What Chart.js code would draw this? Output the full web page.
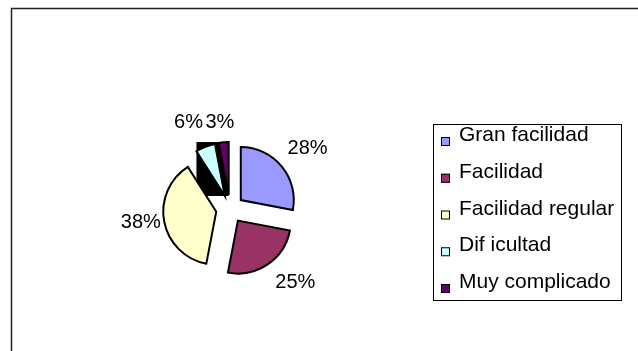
<!DOCTYPE html>
<html>
<head>
<meta charset="utf-8">
<script src="https://cdn.jsdelivr.net/npm/chart.js@4/dist/chart.umd.min.js"></script>
<style>
  html, body { margin: 0; padding: 0; background: #ffffff; }
  #wrap { width: 638px; height: 351px; position: relative; }
</style>
</head>
<body>
<div id="wrap"><canvas id="chart" width="638" height="351"></canvas></div>
<script>
// Survey answers: how easy the task was
const categories = ['Gran facilidad', 'Facilidad', 'Facilidad regular', 'Dif icultad', 'Muy complicado'];
const shares = [28, 25, 38, 6, 3];
const sliceColors = ['#9999FF', '#993366', '#FFFFCC', '#CCFFFF', '#660066'];

const FONT = '"Liberation Sans", Arial, sans-serif';
const EXPLODE = 14;           // distance each slice is pulled out from the centre
const SHADED = [3, 4];        // thin slices drawn over a dark backing box

// Move every slice outward along its bisector
const explodePlugin = {
  id: 'explode',
  afterUpdate(chart) {
    const a = chart.chartArea;
    const cx = (a.left + a.right) / 2, cy = (a.top + a.bottom) / 2;
    chart.getDatasetMeta(0).data.forEach(arc => {
      const mid = (arc.startAngle + arc.endAngle) / 2;
      arc.x = cx + Math.cos(mid) * EXPLODE;
      arc.y = cy + Math.sin(mid) * EXPLODE;
    });
  }
};

// White page with the outer frame line
const framePlugin = {
  id: 'frame',
  beforeDraw(chart) {
    const ctx = chart.ctx;
    ctx.save();
    ctx.fillStyle = '#ffffff';
    ctx.fillRect(0, 0, chart.width, chart.height);
    ctx.strokeStyle = '#222222';
    ctx.lineWidth = 1.5;
    ctx.beginPath();
    ctx.moveTo(11.5, chart.height);
    ctx.lineTo(11.5, 8.5);
    ctx.lineTo(chart.width, 8.5);
    ctx.stroke();
    ctx.restore();
  }
};

// Dark box behind the thinnest slices
const backingPlugin = {
  id: 'backing',
  beforeDatasetsDraw(chart) {
    const arcs = chart.getDatasetMeta(0).data;
    let x0 = Infinity, y0 = Infinity, x1 = -Infinity, y1 = -Infinity;
    SHADED.forEach(i => {
      const arc = arcs[i];
      const pts = [[arc.x, arc.y]];
      for (let k = 0; k <= 20; k++) {
        const t = arc.startAngle + (arc.endAngle - arc.startAngle) * k / 20;
        pts.push([arc.x + Math.cos(t) * arc.outerRadius, arc.y + Math.sin(t) * arc.outerRadius]);
      }
      pts.forEach(([px, py]) => {
        x0 = Math.min(x0, px); y0 = Math.min(y0, py);
        x1 = Math.max(x1, px); y1 = Math.max(y1, py);
      });
    });
    const ctx = chart.ctx;
    ctx.save();
    ctx.fillStyle = '#000000';
    ctx.fillRect(x0, y0, x1 - x0, y1 - y0);
    ctx.restore();
  }
};

// Percentage labels outside each slice
const pctLabelPlugin = {
  id: 'pctLabels',
  afterDatasetsDraw(chart, args, opts) {
    const ctx = chart.ctx;
    const arcs = chart.getDatasetMeta(0).data;
    const values = chart.data.datasets[0].data;
    const total = values.reduce((s, v) => s + v, 0);
    ctx.save();
    ctx.font = opts.size + 'px ' + FONT;
    ctx.fillStyle = '#000000';
    ctx.textAlign = 'center';
    ctx.textBaseline = 'middle';
    arcs.forEach((arc, i) => {
      const text = Math.round(values[i] / total * 100) + '%';
      const mid = (arc.startAngle + arc.endAngle) / 2;
      const dx = Math.cos(mid), dy = Math.sin(mid);
      const w = ctx.measureText(text).width;
      const r = arc.outerRadius + opts.gap;
      const n = opts.nudge[i] || [0, 0];
      const x = arc.x + dx * r + dx * w / 2 + n[0];
      const y = arc.y + dy * r + dy * opts.halfHeight + n[1];
      ctx.fillText(text, x, y);
    });
    ctx.restore();
  }
};

// Boxed legend on the right
const boxLegendPlugin = {
  id: 'boxLegend',
  afterDraw(chart, args, opts) {
    const ctx = chart.ctx;
    const ds = chart.data.datasets[0];
    ctx.save();
    ctx.strokeStyle = '#000000';
    ctx.lineWidth = 1;
    ctx.strokeRect(opts.left + 0.5, opts.top + 0.5, opts.width, opts.height);
    ctx.font = opts.size + 'px ' + FONT;
    ctx.textAlign = 'left';
    ctx.textBaseline = 'alphabetic';
    chart.data.labels.forEach((label, i) => {
      const base = opts.firstBaseline + i * opts.step;
      ctx.fillStyle = ds.backgroundColor[i];
      ctx.fillRect(opts.keyX, base - 4, 9, 9);
      ctx.strokeStyle = '#000000';
      ctx.lineWidth = 1;
      ctx.strokeRect(opts.keyX + 0.5, base - 3.5, 8, 8);
      ctx.fillStyle = '#000000';
      ctx.fillText(label, opts.textX, base);
    });
    ctx.restore();
  }
};

new Chart(document.getElementById('chart'), {
  type: 'pie',
  data: {
    labels: categories,
    datasets: [{
      data: shares,
      backgroundColor: sliceColors,
      borderColor: '#000000',
      borderWidth: 2,
      borderJoinStyle: 'miter'
    }]
  },
  plugins: [framePlugin, explodePlugin, backingPlugin, pctLabelPlugin, boxLegendPlugin],
  options: {
    responsive: false,
    animation: false,
    events: [],
    layout: { padding: { left: 176, right: 354, top: 155, bottom: 88 } },
    plugins: {
      legend: { display: false },
      tooltip: { enabled: false },
      pctLabels: {
        size: 20, gap: 15, halfHeight: 7.5,
        nudge: [[-1, -3], [8, -1], [11, -3], [-6, -3], [-1, 3]]
      },
      boxLegend: {
        left: 433, top: 124, width: 188, height: 176,
        keyX: 441, textX: 459, firstBaseline: 141, step: 36.75, size: 21
      }
    }
  }
});
</script>
</body>
</html>
